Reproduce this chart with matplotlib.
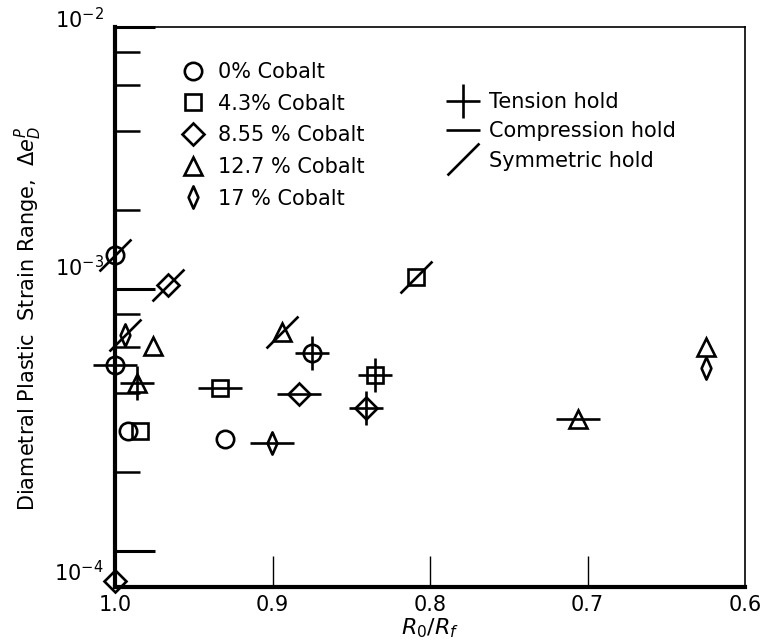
import matplotlib
matplotlib.use("Agg")
import matplotlib.pyplot as plt
from matplotlib.path import Path
from matplotlib.lines import Line2D
from matplotlib.ticker import FixedLocator, NullFormatter, LogFormatterSciNotation
from matplotlib.transforms import ScaledTranslation

# ---- data: R0/Rf vs diametral plastic strain range, by cobalt content ----
# hold codes: "T" tension hold, "C" compression hold, "S" symmetric hold, "" none
co0_x = [1.0, 1.0, 0.992, 0.930, 0.8747]
co0_y = [1.35e-3, 5.13e-4, 2.87e-4, 2.67e-4, 5.70e-4]
co0_hold = ["S", "C", "", "", "T"]

co43_x = [0.984, 0.9335, 0.835, 0.809]
co43_y = [2.87e-4, 4.19e-4, 4.70e-4, 1.11e-3]
co43_hold = ["", "C", "T", "S"]

co855_x = [0.9665, 0.883, 0.8405, 1.0]
co855_y = [1.035e-3, 3.97e-4, 3.52e-4, 7.7e-5]
co855_hold = ["S", "C", "T", ""]

co127_x = [0.976, 0.986, 0.894, 0.7063, 0.6247]
co127_y = [6.05e-4, 4.38e-4, 6.85e-4, 3.19e-4, 6.01e-4]
co127_hold = ["", "T", "S", "C", ""]

co17_x = [0.9937, 0.9006, 0.6247]
co17_y = [6.67e-4, 2.58e-4, 4.99e-4]
co17_hold = ["S", "C", ""]

series_labels = ["0% Cobalt", "4.3% Cobalt", "8.55 % Cobalt", "12.7 % Cobalt", "17 % Cobalt"]
hold_labels = ["Tension hold", "Compression hold", "Symmetric hold"]
x_ticks = [1.0, 0.9, 0.8, 0.7, 0.6]
x_ticklabels = ["1.0", "0.9", "0.8", "0.7", "0.6"]

# ---- marker shapes ----
slash = Path([(-0.5, -0.5), (0.5, 0.5)], [Path.MOVETO, Path.LINETO])
thin_diamond = Path([(0, 0.5), (0.22, 0), (0, -0.5), (-0.22, 0), (0, 0.5)],
                    [Path.MOVETO, Path.LINETO, Path.LINETO, Path.LINETO, Path.CLOSEPOLY])

marker_styles = [("o", 12.5), ("s", 11.5), ("D", 11.0), ("^", 13.5), (thin_diamond, 16.0)]
hold_styles = {"T": ("+", 24.0), "C": ("_", 31.0), "S": (slash, 23.0)}

LW = 1.9
plt.rcParams["font.family"] = ["DejaVu Sans"]
plt.rcParams["mathtext.fontset"] = "dejavusans"

W, H = 766, 644
fig = plt.figure(figsize=(W / 100, H / 100), dpi=100)
fig.patch.set_facecolor("white")
ax_l, ax_r, ax_t, ax_b = 115, 745, 27, 587
ax = fig.add_axes([ax_l / W, (H - ax_b) / H, (ax_r - ax_l) / W, (ax_b - ax_t) / H])

ax.set_yscale("log")
ax.set_xlim(1.0, 0.6)
ax.set_ylim(7.28e-5, 1e-2)

series = [
    (co0_x, co0_y, co0_hold),
    (co43_x, co43_y, co43_hold),
    (co855_x, co855_y, co855_hold),
    (co127_x, co127_y, co127_hold),
    (co17_x, co17_y, co17_hold),
]

for (xs, ys, holds), (mk, ms) in zip(series, marker_styles):
    ax.plot(xs, ys, ls="none", marker=mk, ms=ms, mfc="none", mec="black",
            mew=LW, clip_on=False, zorder=4)
    for code, (hm, hms) in hold_styles.items():
        hx = [x for x, h in zip(xs, holds) if h == code]
        hy = [y for y, h in zip(ys, holds) if h == code]
        if hx:
            ax.plot(hx, hy, ls="none", marker=hm, ms=hms, mec="black",
                    mew=LW, clip_on=False, zorder=5)

# ---- axes frame ----
for side in ("left", "bottom"):
    ax.spines[side].set_linewidth(3.0)
for side in ("top", "right"):
    ax.spines[side].set_linewidth(1.2)

ax.set_xticks(x_ticks)
ax.set_xticklabels(x_ticklabels)
ax.tick_params(axis="x", which="major", direction="in", length=22, width=1.0,
               labelsize=15, pad=6, top=False)
ax.tick_params(axis="x", which="minor", bottom=False, top=False)
xt = ax.xaxis.get_major_ticks()
for t in (xt[0], xt[-1]):
    t.tick1line.set_visible(False)

ax.yaxis.set_major_locator(FixedLocator([1e-4, 1e-3, 1e-2]))
ax.yaxis.set_major_formatter(LogFormatterSciNotation())
ax.yaxis.set_minor_locator(FixedLocator([2e-4, 4e-4, 6e-4, 8e-4, 2e-3, 4e-3, 6e-3, 8e-3]))
ax.yaxis.set_minor_formatter(NullFormatter())
ax.tick_params(axis="y", which="major", direction="in", length=29, width=2.2,
               labelsize=15, pad=8, right=False)
ax.tick_params(axis="y", which="minor", direction="in", length=18, width=1.8, right=False)

fig.canvas.draw()
label_shift = {"1e-02": 7, "1e-03": 17, "1e-04": -14}
for tick, val in zip(ax.yaxis.get_major_ticks(), [1e-4, 1e-3, 1e-2]):
    dy = label_shift["%.0e" % val]
    lab = tick.label1
    lab.set_transform(lab.get_transform() + ScaledTranslation(0, dy / 72, fig.dpi_scale_trans))

ax.set_xlabel(r"$R_0/R_f$", fontsize=16, labelpad=1)
ax.set_ylabel(r"Diametral Plastic  Strain Range,  $\Delta e_D^P$", fontsize=15, labelpad=2)
ax.yaxis.set_label_coords(-0.113, 0.48)

# ---- legends ----
comp_handles = [Line2D([], [], ls="none", marker=mk, ms=ms, mfc="none", mec="black", mew=LW)
                for mk, ms in marker_styles]
leg1 = ax.legend(comp_handles, series_labels, loc="upper left",
                 bbox_to_anchor=(180 / W, 1 - 62 / H), bbox_transform=fig.transFigure,
                 frameon=False, fontsize=15, handlelength=1.2, handletextpad=0.6,
                 labelspacing=0.56, borderpad=0, borderaxespad=0, numpoints=1)
ax.add_artist(leg1)

hold_handles = [Line2D([], [], ls="none", marker=hold_styles[c][0], ms=hold_styles[c][1],
                       mec="black", mew=LW) for c in ("T", "C", "S")]
for h in hold_handles:
    if h.get_marker() == "_":
        h.set_markersize(24)
ax.legend(hold_handles, hold_labels, loc="upper left",
          bbox_to_anchor=(447 / W, 1 - 92 / H), bbox_transform=fig.transFigure,
          frameon=False, fontsize=15, handlelength=1.5, handletextpad=0.5,
          labelspacing=0.45, borderpad=0, borderaxespad=0, numpoints=1)

fig.savefig("out.png", dpi=100, facecolor="white")
